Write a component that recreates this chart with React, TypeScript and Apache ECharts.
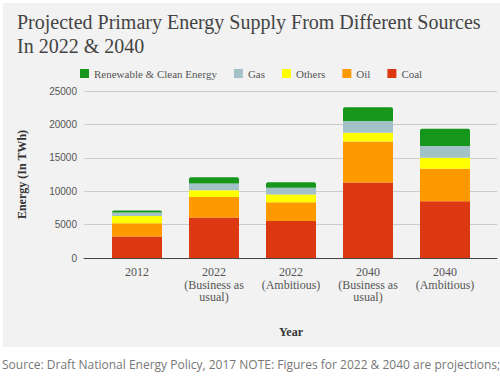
import React, { useEffect, useRef } from "react";
import * as echarts from "echarts";

const categories = [
  "2012",
  "2022\n(Business as\nusual)",
  "2022\n(Ambitious)",
  "2040\n(Business as\nusual)",
  "2040\n(Ambitious)",
];
const coal = [3200, 6050, 5550, 11300, 8500];
const oil = [2000, 3100, 2800, 6150, 4850];
const others = [1100, 1000, 1150, 1300, 1650];
const gas = [500, 1000, 1000, 1750, 1750];
const renewable = [300, 950, 850, 2050, 2600];
const yTicks = { min: 0, max: 25000, interval: 5000 };

const SERIF = "'Liberation Serif', 'DejaVu Serif', serif";
const SANS = "'Liberation Sans', Arial, sans-serif";

export default function App() {
  const ref = useRef<HTMLDivElement>(null);
  useEffect(() => {
    document.body.style.margin = "0";
    const chart = echarts.init(ref.current!, null, { renderer: "svg" });
    const mk = (name: string, data: number[], color: string, top = false) => ({
      name,
      type: "bar",
      stack: "total",
      xAxisIndex: 1,
      yAxisIndex: 1,
      barWidth: 50,
      data,
      itemStyle: { color, borderRadius: top ? [2, 2, 0, 0] : 0 },
    });
    chart.setOption({
      animation: false,
      backgroundColor: "#ffffff",
      title: {
        text: "Projected Primary Energy Supply From Different Sources\nIn 2022 & 2040",
        left: 17,
        top: 10,
        padding: 0,
        textStyle: {
          fontFamily: SERIF,
          fontSize: 20,
          fontWeight: "normal",
          color: "#444",
          lineHeight: 24,
        },
      },
      legend: {
        data: ["Renewable & Clean Energy", "Gas", "Others", "Oil", "Coal"],
        left: 80,
        top: 68,
        padding: 0,
        itemWidth: 9,
        itemHeight: 9,
        itemGap: 17,
        icon: "rect",
        textStyle: { fontFamily: SERIF, fontSize: 11, color: "#555" },
      },
      graphic: [
        {
          type: "rect",
          z: -10,
          silent: true,
          shape: { x: 3, y: 3, width: 497, height: 344 },
          style: { fill: "#f2f2f2" },
        },
        {
          type: "text",
          left: 2,
          top: 358,
          style: {
            text: "Source: Draft National Energy Policy, 2017 NOTE: Figures for 2022 & 2040 are projections;",
            font: "12px 'Open Sans', sans-serif",
            fill: "#777",
          },
        },
      ],
      grid: [
        { left: 84, right: 3, top: 91, height: 167 },
        { left: 98.5, width: 385, top: 91, height: 167 },
      ],
      xAxis: [
        {
          gridIndex: 0,
          type: "category",
          data: [""],
          axisLine: { show: true, lineStyle: { color: "#444", width: 1 } },
          axisTick: { show: false },
          axisLabel: { show: false },
        },
        {
          gridIndex: 1,
          type: "category",
          data: categories,
          name: "Year",
          nameLocation: "middle",
          nameGap: 68,
          nameTextStyle: { fontFamily: SERIF, fontSize: 12, fontWeight: "bold", color: "#333" },
          axisLine: { show: false },
          axisTick: { show: false },
          axisLabel: {
            fontFamily: SERIF,
            fontSize: 12,
            color: "#555",
            lineHeight: 12.5,
            margin: 8,
            interval: 0,
          },
        },
      ],
      yAxis: [
        {
          gridIndex: 0,
          type: "value",
          ...yTicks,
          name: "Energy (In TWh)",
          nameLocation: "middle",
          nameGap: 56,
          nameTextStyle: { fontFamily: SERIF, fontSize: 12, fontWeight: "bold", color: "#333" },
          axisLine: { show: false },
          axisTick: { show: false },
          axisLabel: {
            fontFamily: SANS,
            fontSize: 10,
            color: "#555",
            margin: 7,
            formatter: (v: number) => String(v),
          },
          splitLine: { lineStyle: { color: "#cccccc", width: 1 } },
        },
        {
          gridIndex: 1,
          type: "value",
          ...yTicks,
          show: false,
          splitLine: { show: false },
        },
      ],
      series: [
        mk("Coal", coal, "#dc3912"),
        mk("Oil", oil, "#ff9900"),
        mk("Others", others, "#ffff00"),
        mk("Gas", gas, "#a3c2c8"),
        mk("Renewable & Clean Energy", renewable, "#16961a", true),
      ],
    });
    return () => chart.dispose();
  }, []);
  return <div ref={ref} style={{ width: 500, height: 376 }} />;
}
